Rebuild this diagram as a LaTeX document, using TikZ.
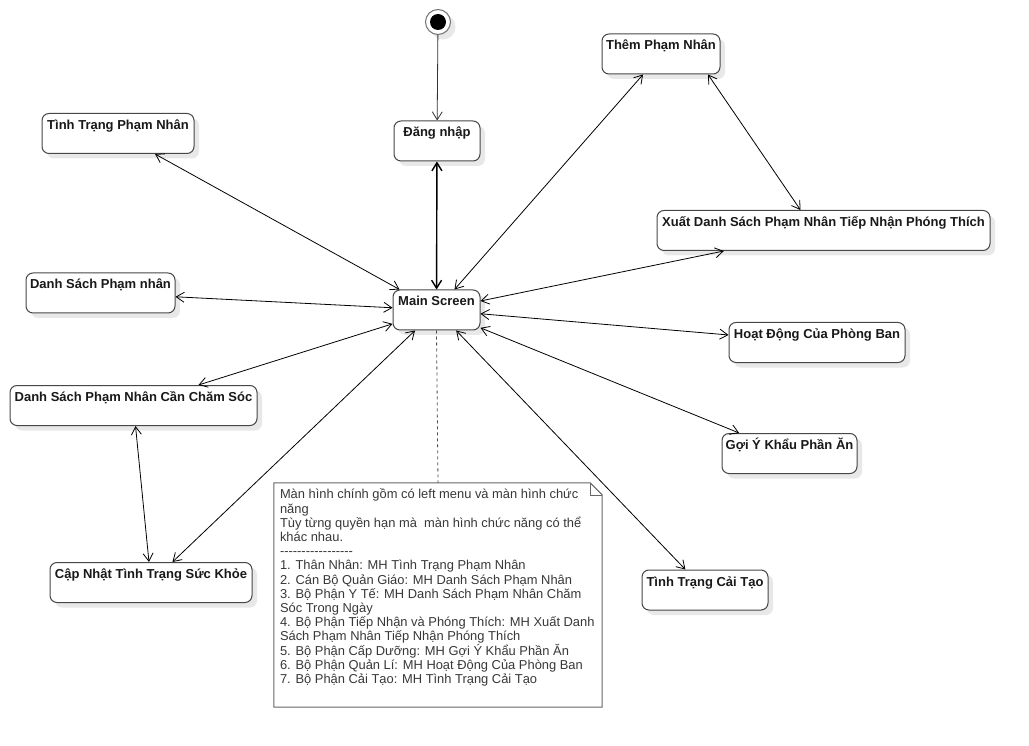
\documentclass[tikz,border=0pt]{standalone}
\usepackage{fontspec}
\setmainfont{Liberation Sans}
\usetikzlibrary{arrows.meta,shadows}

% a hyphen kept apart from its neighbours so that no dash ligature forms
\newcommand{\hyph}{\mbox{-}}

\tikzset{
  softshadow/.style={drop shadow={shadow xshift=5pt, shadow yshift=-5pt, fill=black!9, opacity=1}},
  statebox/.style={draw=black!72, line width=1pt, rounded corners=7pt, fill=white,
    minimum height=40pt, inner xsep=3pt, inner ysep=3pt,
    text height=13pt, text depth=21pt,
    font=\bfseries\fontsize{13}{15}\selectfont, text=black!90, softshadow},
  startring/.style={circle, draw=black!55, line width=1pt, fill=white, minimum size=25pt, inner sep=0pt, softshadow},
  startdot/.style={circle, fill=black, minimum size=16pt, inner sep=0pt},
  tipV/.tip={Straight Barb[length=8pt,width=10pt]},
  link/.style={draw=black, line width=0.8pt, tipV-tipV},
  onearrow/.style={draw=black!80, line width=0.8pt, -tipV},
  notetext/.style={align=left, inner sep=0pt, font=\fontsize{12.9}{14.2}\selectfont, text=black!78},
}

\begin{document}
\begin{tikzpicture}[x=1pt,y=-1pt]
\useasboundingbox (0,0) rectangle (1029,746);

% initial state
\node[startring] (start) at (438,22) {};
\node[startdot] at (start) {};

% screens
\node[statebox, minimum width=86pt]  (dn)   at (437,141)   {Đăng nhập};
\node[statebox, minimum width=87pt]  (main) at (436.5,310) {Main Screen};
\node[statebox, minimum width=118pt] (thm)  at (661,54)    {Thêm Phạm Nhân};
\node[statebox, minimum width=333pt] (xuat) at (823.5,230.5) {Xuất Danh Sách Phạm Nhân Tiếp Nhận Phóng Thích};
\node[statebox, minimum width=152pt] (tpn)  at (118,133.5) {Tình Trạng Phạm Nhân};
\node[statebox, minimum width=149pt] (dspn) at (100.5,293) {Danh Sách Phạm nhân};
\node[statebox, minimum width=247pt] (dscs) at (133.5,405.5) {Danh Sách Phạm Nhân Cần Chăm Sóc};
\node[statebox, minimum width=202pt] (cnsk) at (151,582.5) {Cập Nhật Tình Trạng Sức Khỏe};
\node[statebox, minimum width=176pt] (hd)   at (817,342.5) {Hoạt Động Của Phòng Ban};
\node[statebox, minimum width=135pt] (gy)   at (789.5,453.5) {Gợi Ý Khẩu Phần Ăn};
\node[statebox, minimum width=126pt] (ttct) at (705,590)   {Tình Trạng Cải Tạo};

% transitions
\draw[onearrow] (start) -- (dn);
\draw[link, line width=1.4pt] (dn) -- (main);
\draw[link] (tpn) -- (main);
\draw[link] (dspn) -- (main);
\draw[link] (dscs) -- (main);
\draw[link] (dscs) -- (cnsk);
\draw[link] (cnsk) -- (main);
\draw[link] (thm) -- (main);
\draw[link] ([xshift=47pt]thm.south) -- ([xshift=-23pt]xuat.north);
\draw[link] (xuat) -- (main);
\draw[link] (hd) -- (main);
\draw[link] (gy) -- (main);
\draw[link] (ttct) -- (main);

% comment note
\node[minimum width=328pt, minimum height=224pt, inner sep=0pt] (note) at (438,595) {};
\fill[black!8, xshift=4pt, yshift=-4pt]
  (note.north west) -- ([xshift=-12pt]note.north east) -- ([yshift=-12pt]note.north east)
  -- (note.south east) -- (note.south west) -- cycle;
\draw[black!60, line width=1pt, fill=white]
  (note.north west) -- ([xshift=-12pt]note.north east) -- ([yshift=-12pt]note.north east)
  -- (note.south east) -- (note.south west) -- cycle;
\draw[black!60, line width=0.6pt] ([xshift=-12pt]note.north east) -- ([xshift=-12pt,yshift=-12pt]note.north east) -- ([yshift=-12pt]note.north east);
\draw[black!70, dash pattern=on 3pt off 3pt, line width=0.8pt] (main.south) -- (note.north);

\node[notetext, anchor=north west] (notetxt) at ([shift={(6pt,-6pt)}]note.north west) {%
Màn hình chính gồm có left menu và màn hình chức\\
năng\\
Tùy từng quyền hạn mà~ màn hình chức năng có thể\\
khác nhau.\\
\hyph\hyph\hyph\hyph\hyph\hyph\hyph\hyph\hyph\hyph\hyph\hyph\hyph\hyph\hyph\hyph\hyph\\
1. Thân Nhân: MH Tình Trạng Phạm Nhân\\
2. Cán Bộ Quản Giáo: MH Danh Sách Phạm Nhân\\
3. Bộ Phận Y Tế: MH Danh Sách Phạm Nhân Chăm\\
Sóc Trong Ngày\\
4. Bộ Phận Tiếp Nhận và Phóng Thích: MH Xuất Danh\\
Sách Phạm Nhân Tiếp Nhận Phóng Thích\\
5. Bộ Phận Cấp Dưỡng: MH Gợi Ý Khẩu Phần Ăn\\
6. Bộ Phận Quản Lí: MH Hoạt Động Của Phòng Ban\\
7. Bộ Phận Cải Tạo: MH Tình Trạng Cải Tạo};
\end{tikzpicture}
\end{document}
